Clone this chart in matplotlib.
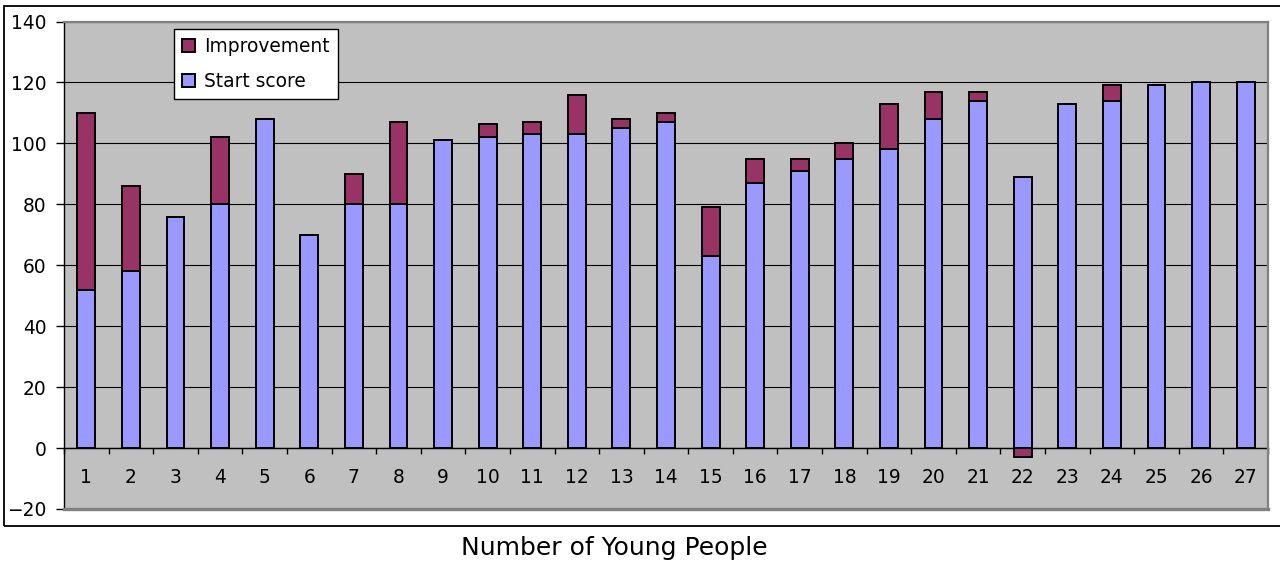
import numpy as np
import matplotlib
matplotlib.use("Agg")
import matplotlib.pyplot as plt
from matplotlib.patches import Rectangle

# values
people = list(range(1, 28))
start_score = [52, 58, 76, 80, 108, 70, 80, 80, 101, 102, 103, 103, 105, 107,
               63, 87, 91, 95, 98, 108, 114, 89, 113, 114, 119, 120, 120]
improvement = [58, 28, 0, 22, 0, 0, 10, 27, 0, 4.5, 4, 13, 3, 3,
               16, 8, 4, 5, 15, 9, 3, -3, 0, 5, 0, 0, 0]
y_ticks = [-20, 0, 20, 40, 60, 80, 100, 120, 140]

START_COLOR = '#9999FF'
IMPROVE_COLOR = '#993366'
PLOT_BG = '#C0C0C0'

plt.rcParams['font.family'] = ['DejaVu Sans']

fig = plt.figure(figsize=(12.8, 5.65), dpi=100)
ax = fig.add_axes([64 / 1280, 1 - 509 / 565, 1204 / 1280, 487.5 / 565])
ax.set_facecolor(PLOT_BG)

x = np.array(people)
start = np.array(start_score, dtype=float)
imp = np.array(improvement, dtype=float)

# Excel stacks negatives downward from zero
imp_bottom = np.where(imp >= 0, start, 0)

ax.bar(x, start, width=0.4, color=START_COLOR, edgecolor='black', linewidth=1.4,
       label='Start score', zorder=3)
ax.bar(x, imp, bottom=imp_bottom, width=0.4, color=IMPROVE_COLOR, edgecolor='black',
       linewidth=1.4, label='Improvement', zorder=3)

ax.set_xlim(0.5, 27.5)
ax.set_ylim(-20, 140)
ax.set_yticks(y_ticks)
ax.yaxis.grid(True, color='black', linewidth=0.8, zorder=1)
ax.set_axisbelow(True)

# category axis at zero, tick marks between categories
ax.spines['bottom'].set_position(('data', 0))
ax.spines['bottom'].set_color('black')
ax.spines['bottom'].set_linewidth(1.0)
ax.spines['bottom'].set_zorder(2)
ax.set_xticks(np.arange(0.5, 28, 1))
ax.set_xticklabels([])
ax.set_xticks(x, minor=True)
ax.set_xticklabels([str(p) for p in people], minor=True)
ax.tick_params(axis='x', which='major', direction='out', length=4, width=1, color='black')
ax.tick_params(axis='x', which='minor', length=0, pad=14, labelsize=13.4)
ax.tick_params(axis='y', direction='out', length=5.5, width=1, pad=7, labelsize=13.4)

ax.spines['left'].set_color('black')
ax.spines['left'].set_linewidth(1.0)
for side in ('top', 'right'):
    ax.spines[side].set_color('#808080')
    ax.spines[side].set_linewidth(1.6)
# plot-area border along the bottom
ax.axhline(-20, color='#808080', linewidth=2.4, zorder=4, clip_on=False)

handles, labels = ax.get_legend_handles_labels()
leg = ax.legend(handles[::-1], labels[::-1], loc='upper left',
                bbox_to_anchor=(110 / 1204, 1 - 7 / 487.5), borderaxespad=0,
                fontsize=13.4, frameon=True, fancybox=False, framealpha=1,
                edgecolor='black', handlelength=0.7, handleheight=0.7,
                handletextpad=0.45, labelspacing=0.85, borderpad=0.45)
leg.get_frame().set_linewidth(1.0)

# outer chart border
fig.patches.append(Rectangle((4 / 1280, 1 - 526 / 565), 1.1, 520 / 565,
                             transform=fig.transFigure, fill=False,
                             edgecolor='black', linewidth=1.3))

fig.text(614 / 1280, 1 - 548 / 565, 'Number of Young People', fontsize=18,
         ha='center', va='center')

fig.savefig('out.png', dpi=100)
